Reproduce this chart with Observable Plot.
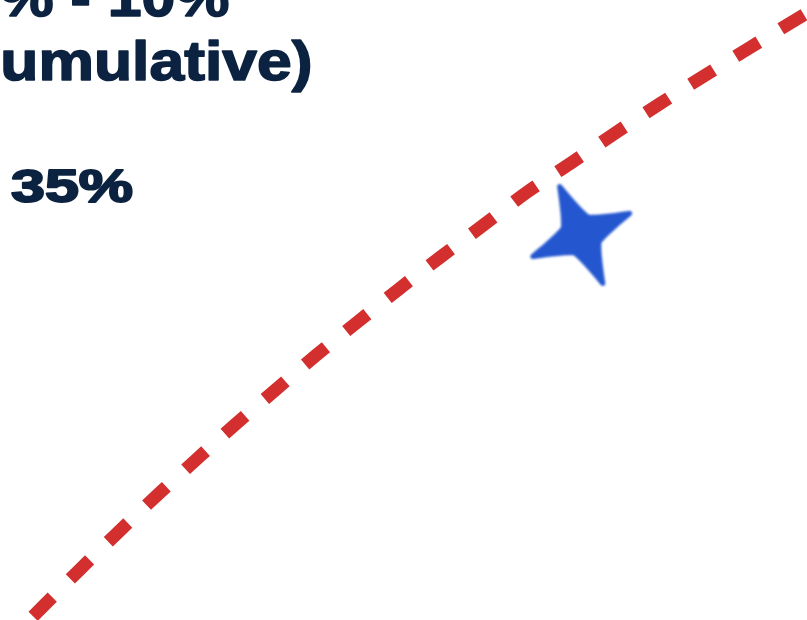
<!DOCTYPE html>
<html><head><meta charset="utf-8">
<script src="https://cdn.jsdelivr.net/npm/d3@7"></script>
<script src="https://cdn.jsdelivr.net/npm/@observablehq/plot@0.6"></script>
<style>
html,body{margin:0;padding:0;background:#fff;}
#chart svg{overflow:hidden;display:block;background:#fff;}
</style>
</head><body><div id="chart"></div>
<script>
// Cumulative curve (x: progress %, y: cumulative %)
const curveX = [-0.61, 5.17, 9.70, 14.46, 19.24, 24.13, 29.03, 33.99, 39.07, 44.20, 49.41, 54.61, 59.89, 65.27, 70.72, 76.21, 81.70, 87.27, 92.94, 98.39, 104.71];
const curveY = [-5.39, 2.15, 8.06, 14.08, 20.00, 25.81, 31.56, 37.10, 42.74, 48.11, 53.50, 58.71, 63.82, 69.11, 73.82, 78.66, 83.34, 87.90, 92.47, 96.77, 101.77];

// Marker (star)
const starX = [71.96];
const starY = [62.18];

// Annotation labels
const labelText = ["5% - 10%", "(Cumulative)", "35%"];
const labelX = [28.38, 38.66, 1.30];
const labelY = [97.58, 87.10, 67.42];

const curve = curveX.map((x, i) => ({x, y: curveY[i]}));
const stars = starX.map((x, i) => ({x, y: starY[i]}));
const labels = labelText.map((t, i) => ({t, x: labelX[i], y: labelY[i]}));

const star4 = {
  draw(ctx, size) {
    const R = Math.sqrt(size / Math.PI);
    const r = R * 0.40;
    const c = R * 0.36;
    for (let i = 0; i < 4; i++) {
      const a = i * Math.PI / 2;
      const b = a + Math.PI / 4;
      const h = Math.PI / 8;
      if (i === 0) ctx.moveTo(R * Math.cos(a), R * Math.sin(a));
      else ctx.lineTo(R * Math.cos(a), R * Math.sin(a));
      ctx.quadraticCurveTo((r + R) / 2 * 0.62 * Math.cos(b - h) , (r + R) / 2 * 0.62 * Math.sin(b - h), c * Math.cos(b), c * Math.sin(b));
      ctx.quadraticCurveTo((r + R) / 2 * 0.62 * Math.cos(b + h) , (r + R) / 2 * 0.62 * Math.sin(b + h), R * Math.cos(a + Math.PI / 2), R * Math.sin(a + Math.PI / 2));
    }
    ctx.closePath();
  }
};

const navy = "#0b2240";
const font = "Liberation Sans, Arial, sans-serif";

const chart = Plot.plot({
  width: 807,
  height: 620,
  margin: 0,
  x: {domain: [0, 100], axis: null},
  y: {domain: [0, 100], axis: null},
  marks: [
    Plot.line(curve, {x: "x", y: "y", stroke: "#d32f2e", strokeWidth: 13, strokeDasharray: "27,26", strokeLinecap: "butt", curve: "catmull-rom"}),
    Plot.dot(stars, {x: "x", y: "y", symbol: star4, r: 53, rotate: -24, fill: "#2457cf", stroke: "#2457cf", strokeWidth: 5, strokeLinejoin: "round"}),
    Plot.text([labels[0]], {x: "x", y: "y", text: "t", textAnchor: "end", lineAnchor: "bottom", fontSize: 56, fontWeight: "bold", fontFamily: font, fill: navy, stroke: navy, strokeWidth: 1.6}),
    Plot.text([labels[1]], {x: "x", y: "y", text: "t", textAnchor: "end", lineAnchor: "bottom", fontSize: 56, fontWeight: "bold", fontFamily: font, fill: navy, stroke: navy, strokeWidth: 1.6}),
    Plot.text([labels[2]], {x: "x", y: "y", text: "t", textAnchor: "start", lineAnchor: "bottom", fontSize: 47, fontWeight: "bold", fontFamily: font, fill: navy, stroke: navy, strokeWidth: 2})
  ]
});
document.getElementById("chart").append(chart);

// horizontal stretch of the label glyphs, as in the picture
const lengths = [264, 378, 122];
const texts = chart.querySelectorAll('g[aria-label="text"] text');
texts.forEach((t, i) => {
  t.setAttribute("textLength", lengths[i]);
  t.setAttribute("lengthAdjust", "spacingAndGlyphs");
  t.style.paintOrder = "normal";
});
chart.querySelectorAll('g[aria-label="dot"] path').forEach(p => p.style.filter = "blur(0.8px)");
</script>
</body></html>
